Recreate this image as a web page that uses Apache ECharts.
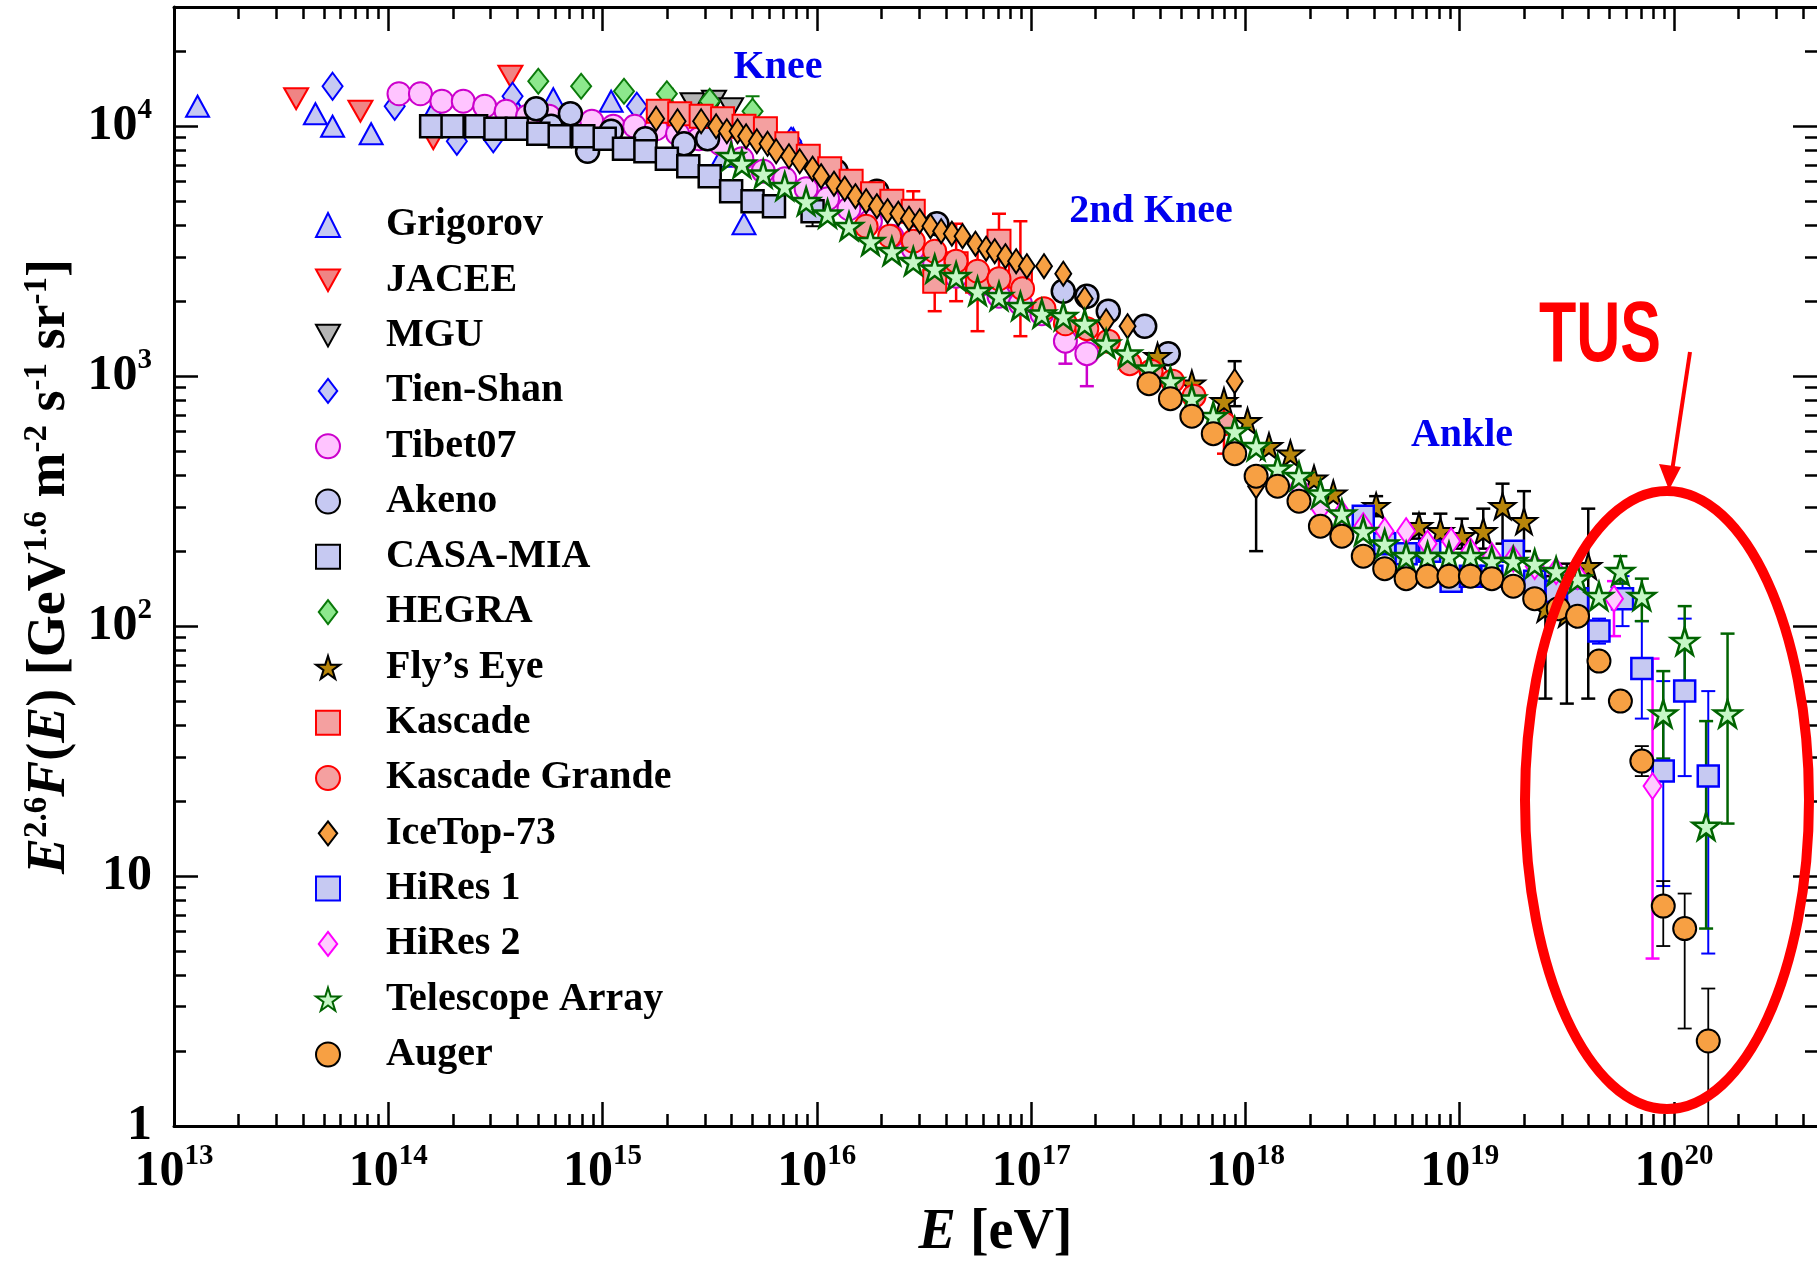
<!DOCTYPE html>
<html><head><meta charset="utf-8">
<script src="https://cdn.jsdelivr.net/npm/echarts@6/dist/echarts.min.js"></script>
<style>html,body{margin:0;padding:0;background:#fff}#c{width:1817px;height:1261px}</style>
</head><body><div id="c"></div>
<script>
// All values below as [log10(E/eV), log10(E^2.6 F(E))]
const GRIGOROV = [[13.11,4.08],[13.66,4.05],[13.74,4.00],[13.92,3.97],[14.21,4.06],[14.57,4.11],[14.77,4.11],[15.04,4.10],[15.56,3.88],[15.66,3.61],[15.89,3.95]];
const JACEE = [[13.57,4.11],[13.87,4.06],[14.21,3.95],[14.57,4.20]];
const MGU = [[15.42,4.09],[15.52,4.10],[15.60,4.07]];
const TIENSHAN = [[13.74,4.16],[14.03,4.08],[14.32,3.94],[14.49,3.95],[14.58,4.12],[15.16,4.08],[15.88,3.94]];
const TIBET07 = [[14.05,4.13],[14.15,4.13],[14.25,4.10],[14.35,4.10],[14.45,4.08],[14.55,4.06],[14.65,4.04],[14.75,4.04],[14.86,4.02],[14.95,4.02],[15.05,4.00],[15.15,4.00],[15.25,3.99],[15.35,3.97],[15.45,3.95],[15.55,3.93],[15.65,3.87],[15.75,3.82],[15.85,3.79],[15.95,3.75],[16.05,3.71],[16.15,3.67],[16.25,3.62],[16.35,3.56],[16.45,3.51],[16.55,3.45],[16.65,3.40],[16.75,3.36],[16.85,3.32],[16.95,3.29],[17.05,3.25],[17.16,3.14],[17.26,3.09]];
const TIBET07_ERR = [[17.16,3.05,3.21],[17.26,2.96,3.22]];
const AKENO = [[14.69,4.07],[14.76,4.00],[14.85,4.05],[14.93,3.90],[15.04,3.98],[15.20,3.95],[15.38,3.93],[15.49,3.95],[16.09,3.82],[16.28,3.74],[16.56,3.61],[17.15,3.34],[17.26,3.32],[17.36,3.26],[17.53,3.20],[17.64,3.09]];
const CASAMIA = [[14.20,4.00],[14.30,4.00],[14.41,4.00],[14.50,3.99],[14.60,3.99],[14.70,3.97],[14.80,3.96],[14.91,3.96],[15.01,3.95],[15.10,3.91],[15.20,3.90],[15.30,3.87],[15.40,3.84],[15.50,3.80],[15.60,3.74],[15.70,3.70],[15.80,3.68],[15.98,3.66]];
const CASAMIA_ERR = [[15.98,3.60,3.70]];
const HEGRA = [[14.70,4.18],[14.90,4.16],[15.10,4.14],[15.30,4.13],[15.50,4.10],[15.70,4.06]];
const HEGRA_ERR = [[15.30,4.10,4.15],[15.50,4.07,4.13],[15.70,4.03,4.12]];
const FLYSEYE = [[17.59,3.08],[17.75,2.97],[17.90,2.90],[18.01,2.82],[18.11,2.72],[18.21,2.69],[18.32,2.59],[18.41,2.53],[18.61,2.48],[18.81,2.40],[18.91,2.38],[19.01,2.36],[19.11,2.38],[19.20,2.48],[19.30,2.42],[19.40,2.07],[19.50,2.05],[19.60,2.24]];
const FLYSEYE_ERR = [[18.61,2.44,2.52],[18.81,2.35,2.45],[18.91,2.34,2.45],[19.01,2.31,2.43],[19.11,2.31,2.47],[19.20,2.33,2.57],[19.30,2.30,2.54],[19.40,1.71,2.20],[19.50,1.69,2.25],[19.60,1.71,2.47]];
const KASCADE = [[15.26,4.06],[15.36,4.05],[15.46,4.04],[15.56,4.03],[15.66,4.00],[15.76,3.99],[15.86,3.93],[15.96,3.88],[16.06,3.83],[16.16,3.78],[16.26,3.73],[16.35,3.70],[16.45,3.66],[16.55,3.38],[16.65,3.45],[16.75,3.38],[16.85,3.54],[16.95,3.40]];
const KASCADE_ERR = [[16.45,3.60,3.74],[16.55,3.26,3.50],[16.65,3.30,3.61],[16.75,3.18,3.52],[16.85,3.40,3.65],[16.95,3.16,3.62]];
const KGRANDE = [[16.23,3.60],[16.34,3.56],[16.45,3.54],[16.55,3.50],[16.65,3.46],[16.75,3.42],[16.85,3.39],[16.96,3.35],[17.06,3.27],[17.16,3.21],[17.26,3.19],[17.36,3.14],[17.46,3.05],[17.56,3.02],[17.66,2.98],[17.76,2.92],[17.90,2.81]];
const KGRANDE_ERR = [[17.90,2.69,2.90]];
const ICETOP = [[15.25,4.03],[15.35,4.02],[15.46,4.02],[15.53,4.00],[15.58,3.98],[15.63,3.98],[15.67,3.96],[15.72,3.94],[15.77,3.93],[15.81,3.90],[15.87,3.88],[15.92,3.86],[15.98,3.83],[16.02,3.80],[16.08,3.77],[16.13,3.75],[16.18,3.72],[16.23,3.70],[16.28,3.68],[16.33,3.66],[16.38,3.65],[16.43,3.63],[16.48,3.62],[16.53,3.60],[16.58,3.58],[16.63,3.57],[16.68,3.56],[16.74,3.53],[16.79,3.51],[16.83,3.50],[16.88,3.48],[16.93,3.46],[16.98,3.44],[17.06,3.44],[17.15,3.41],[17.25,3.31],[17.35,3.22],[17.45,3.20],[17.95,2.98],[18.05,2.56]];
const ICETOP_ERR = [[17.95,2.88,3.06],[18.05,2.30,2.60]];
const HIRES1 = [[18.55,2.44],[18.65,2.33],[18.75,2.29],[18.86,2.30],[18.96,2.18],[19.05,2.20],[19.15,2.20],[19.25,2.30],[19.35,2.18],[19.45,2.14],[19.55,2.11],[19.65,1.98],[19.76,2.11],[19.85,1.83],[19.95,1.42],[20.05,1.74],[20.16,1.40]];
const HIRES1_ERR = [[19.65,1.93,2.03],[19.76,2.00,2.20],[19.85,1.63,2.02],[19.95,0.96,1.78],[20.05,1.40,2.03],[20.16,0.69,1.74]];
const HIRES2 = [[18.25,2.56],[18.35,2.47],[18.45,2.45],[18.55,2.40],[18.65,2.38],[18.75,2.38],[18.85,2.33],[18.96,2.34],[19.05,2.30],[19.15,2.28],[19.25,2.27],[19.35,2.24],[19.45,2.22],[19.55,2.20],[19.72,2.11],[19.90,1.36]];
const HIRES2_ERR = [[19.72,1.96,2.18],[19.90,0.67,1.87]];
const TA = [[15.60,3.88],[15.65,3.85],[15.75,3.81],[15.85,3.76],[15.95,3.70],[16.05,3.65],[16.15,3.60],[16.25,3.54],[16.35,3.50],[16.45,3.46],[16.55,3.43],[16.65,3.40],[16.75,3.34],[16.85,3.32],[16.95,3.28],[17.05,3.25],[17.15,3.24],[17.25,3.21],[17.35,3.13],[17.45,3.09],[17.55,3.03],[17.65,2.98],[17.75,2.91],[17.85,2.84],[17.95,2.78],[18.05,2.72],[18.15,2.63],[18.25,2.60],[18.35,2.53],[18.45,2.45],[18.55,2.38],[18.65,2.33],[18.75,2.28],[18.85,2.28],[18.95,2.28],[19.05,2.28],[19.15,2.26],[19.25,2.26],[19.35,2.25],[19.45,2.22],[19.55,2.19],[19.65,2.12],[19.75,2.22],[19.85,2.12],[19.95,1.65],[20.05,1.94],[20.15,1.20],[20.25,1.65]];
const TA_ERR = [[19.75,2.17,2.28],[19.85,2.02,2.19],[19.95,1.47,1.82],[20.05,1.78,2.08],[20.15,0.79,1.62],[20.25,1.21,1.97]];
const AUGER = [[17.55,2.97],[17.65,2.91],[17.75,2.84],[17.85,2.77],[17.95,2.69],[18.05,2.60],[18.15,2.56],[18.25,2.50],[18.35,2.40],[18.45,2.36],[18.55,2.28],[18.65,2.23],[18.75,2.19],[18.85,2.20],[18.95,2.20],[19.05,2.20],[19.15,2.19],[19.25,2.16],[19.35,2.11],[19.46,2.07],[19.55,2.04],[19.65,1.86],[19.75,1.70],[19.85,1.46],[19.95,0.88],[20.05,0.79],[20.16,0.34]];
const AUGER_ERR = [[19.85,1.40,1.52],[19.95,0.72,0.98],[20.05,0.39,0.93],[20.16,-0.02,0.55]];

// axes
const X_MIN = 1e13, X_MAX = 4.65e20, Y_MIN = 1, Y_MAX = 3e4;
const X_TICK_EXP = [13,14,15,16,17,18,19,20];
const Y_TICK_EXP = [0,1,2,3,4];

const P = v => Math.pow(10, v);
const X_MAJOR = X_TICK_EXP.map(P);
const Y_MAJOR = Y_TICK_EXP.map(P);
const X_MINOR = [], Y_MINOR = [];
for (let e = 13; e <= 20; e++) for (let k = 2; k <= 9; k++) { const v = k * P(e); if (v < X_MAX) X_MINOR.push(v); }
for (let e = 0; e <= 4; e++) for (let k = 2; k <= 9; k++) { const v = k * P(e); if (v < Y_MAX) Y_MINOR.push(v); }

const LAV = '#c6c9f2', BLUE = '#0000ff';
const DOWN = 'path://M0,0 L100,0 L50,90 Z';
const STAR = 'path://M50,0 L61,35 L98,35 L68,57 L79,92 L50,71 L21,92 L32,57 L2,35 L39,35 Z';
const DIAM = 'path://M50,0 L100,65 L50,130 L0,65 Z';

const SPEC = [
  {name:'Grigorov', data:GRIGOROV, symbol:'triangle', size:[23,21], fill:LAV, stroke:BLUE, bw:2},
  {name:'JACEE', data:JACEE, symbol:DOWN, size:[24,21], fill:'#f08484', stroke:'#ff0000', bw:2},
  {name:'MGU', data:MGU, symbol:DOWN, size:[24,21], fill:'#b4b4b4', stroke:'#000', bw:2},
  {name:'Tien-Shan', data:TIENSHAN, symbol:'diamond', size:[20,27], fill:LAV, stroke:BLUE, bw:2, icon:DIAM},
  {name:'Tibet07', data:TIBET07, symbol:'circle', size:23, fill:'#ffc4ff', stroke:'#cc00cc', bw:2, err:TIBET07_ERR, ec:'#cc00cc', ew:2.5},
  {name:'Akeno', data:AKENO, symbol:'circle', size:23, fill:LAV, stroke:'#000', bw:2.5},
  {name:'CASA-MIA', data:CASAMIA, symbol:'rect', size:22, fill:LAV, stroke:'#000', bw:2.5, err:CASAMIA_ERR, ec:'#000', ew:2},
  {name:'HEGRA', data:HEGRA, symbol:'diamond', size:[20,25], fill:'#8de88d', stroke:'#0a7a0a', bw:2, err:HEGRA_ERR, ec:'#0a7a0a', ew:2, icon:DIAM},
  {name:'Fly\u2019s Eye', data:FLYSEYE, symbol:STAR, size:26, fill:'#b8860b', stroke:'#000', bw:2, err:FLYSEYE_ERR, ec:'#000', ew:2.5},
  {name:'Kascade', data:KASCADE, symbol:'rect', size:23, fill:'#f4a0a0', stroke:'#ff0000', bw:2, err:KASCADE_ERR, ec:'#ff0000', ew:2.5},
  {name:'Kascade Grande', data:KGRANDE, symbol:'circle', size:23, fill:'#f4a0a0', stroke:'#ff0000', bw:2, err:KGRANDE_ERR, ec:'#ff0000', ew:2.5},
  {name:'IceTop-73', data:ICETOP, symbol:'diamond', size:[16,24], fill:'#f7a043', stroke:'#000', bw:2, err:ICETOP_ERR, ec:'#000', ew:2.5, icon:DIAM},
  {name:'HiRes 1', data:HIRES1, symbol:'rect', size:21, fill:LAV, stroke:BLUE, bw:2.5, err:HIRES1_ERR, ec:BLUE, ew:2},
  {name:'HiRes 2', data:HIRES2, symbol:'diamond', size:[18,26], fill:'#ffccff', stroke:'#ff00ff', bw:2, err:HIRES2_ERR, ec:'#ff00ff', ew:2.5, icon:DIAM},
  {name:'Telescope Array', data:TA, symbol:STAR, size:27, fill:'#c6f7c6', stroke:'#006400', bw:2.5, err:TA_ERR, ec:'#006400', ew:2.5},
  {name:'Auger', data:AUGER, symbol:'circle', size:23, fill:'#f7a043', stroke:'#000', bw:2, err:AUGER_ERR, ec:'#000', ew:1.8}
];

function errSeries(s) {
  const col = s.ec, lw = s.ew;
  return {
    type:'custom', name:'err-' + s.name, silent:true, legendHoverLink:false,
    data: s.err.map(d => [P(d[0]), P(d[1]), P(d[2])]),
    encode:{x:0, y:[1,2]},
    renderItem: function (params, api) {
      const x = api.value(0), lo = api.value(1), hi = api.value(2);
      const a = api.coord([x, hi]), b = api.coord([x, Math.max(lo, Y_MIN)]);
      const w = 7;
      const st = {stroke: col, lineWidth: lw};
      const ch = [
        {type:'line', shape:{x1:a[0], y1:a[1], x2:b[0], y2:b[1]}, style:st},
        {type:'line', shape:{x1:a[0]-w, y1:a[1], x2:a[0]+w, y2:a[1]}, style:st}
      ];
      if (lo > Y_MIN) ch.push({type:'line', shape:{x1:b[0]-w, y1:b[1], x2:b[0]+w, y2:b[1]}, style:st});
      return {type:'group', children: ch};
    }
  };
}

const series = [];
SPEC.forEach(s => {
  if (s.err) series.push(errSeries(s));
  series.push({
    type:'scatter', name:s.name, symbol:s.symbol, symbolSize:s.size,
    data: s.data.map(d => [P(d[0]), P(d[1])]),
    itemStyle:{color:s.fill, borderColor:s.stroke, borderWidth:s.bw, opacity:1},
    emphasis:{disabled:true}
  });
});

const SERIF = 'Liberation Serif';
const labRich = {
  b:{fontFamily:SERIF, fontWeight:'bold', fontSize:50, lineHeight:60, color:'#000'},
  s:{fontFamily:SERIF, fontWeight:'bold', fontSize:29, lineHeight:30, verticalAlign:'top', color:'#000'}
};
const tickLine = {color:'#000', width:2.5};
function xAxis(pos, major, showLine, showLabel) {
  return {
    type:'log', logBase:10, min:X_MIN, max:X_MAX, position:pos,
    splitLine:{show:false}, minorTick:{show:false}, minorSplitLine:{show:false},
    axisLine:{show:showLine, onZero:false, lineStyle:{color:'#000', width:3}},
    axisTick:{show:true, inside:true, length: major ? 24 : 12, lineStyle:tickLine, customValues: major ? X_MAJOR : X_MINOR},
    axisLabel: showLabel ? {show:true, customValues:X_MAJOR, margin:16, rich:labRich,
      formatter: v => '{b|10}{s|' + Math.round(Math.log10(v)) + '}'} : {show:false}
  };
}
function yAxis(pos, major, showLine, showLabel) {
  return {
    type:'log', logBase:10, min:Y_MIN, max:Y_MAX, position:pos,
    splitLine:{show:false}, minorTick:{show:false}, minorSplitLine:{show:false},
    axisLine:{show:showLine, onZero:false, lineStyle:{color:'#000', width:3}},
    axisTick:{show:true, inside:true, length: major ? 24 : 12, lineStyle:tickLine, customValues: major ? Y_MAJOR : Y_MINOR},
    axisLabel: showLabel ? {show:true, customValues:Y_MAJOR, margin:22, rich:labRich,
      formatter: v => { const e = Math.round(Math.log10(v)); return e === 0 ? '{b|1}' : (e === 1 ? '{b|10}' : '{b|10}{s|' + e + '}'); }} : {show:false}
  };
}

const xa = [xAxis('bottom', true, true, true), xAxis('bottom', false, false, false), xAxis('top', true, true, false), xAxis('top', false, false, false)];
xa[0].name = '{i|E}{b| [eV]}';
xa[0].nameLocation = 'middle';
xa[0].nameGap = 78;
xa[0].nameTextStyle = {rich:{
  i:{fontFamily:SERIF, fontWeight:'bold', fontStyle:'italic', fontSize:56, lineHeight:60, color:'#000'},
  b:{fontFamily:SERIF, fontWeight:'bold', fontSize:56, lineHeight:60, color:'#000'}}};
const ya = [yAxis('left', true, true, true), yAxis('left', false, false, false), yAxis('right', true, false, false), yAxis('right', false, false, false)];
ya[0].name = '{i|E}{s|2.6}{i|F}{b|(}{i|E}{b|) [GeV}{s|1.6}{b| m}{s|-2}{b| s}{s|-1}{b| sr}{s|-1}{b|]}';
ya[0].nameLocation = 'middle';
ya[0].nameRotate = 90;
ya[0].nameGap = 92;
ya[0].nameTextStyle = {rich:{
  i:{fontFamily:SERIF, fontWeight:'bold', fontStyle:'italic', fontSize:54, lineHeight:58, color:'#000'},
  b:{fontFamily:SERIF, fontWeight:'bold', fontSize:54, lineHeight:58, color:'#000'},
  s:{fontFamily:SERIF, fontWeight:'bold', fontSize:33, lineHeight:32, verticalAlign:'top', color:'#000'}}};

const annoFont = {fontFamily:SERIF, fontWeight:'bold', fontSize:40, fill:'#0000ee', align:'center', verticalAlign:'middle'};
const chart = echarts.init(document.getElementById('c'), null, {renderer:'canvas'});
chart.setOption({
  animation:false,
  backgroundColor:'#ffffff',
  grid:{left:174, top:7, right:0, bottom:135, containLabel:false, outerBoundsMode:'none'},
  xAxis: xa,
  yAxis: ya,
  legend:{
    orient:'vertical', left:315, top:205, padding:0, itemWidth:24, itemHeight:24, itemGap:15.3,
    selectedMode:false, itemStyle:{borderWidth:2},
    data: SPEC.map(s => s.icon ? {name:s.name, icon:s.icon} : {name:s.name}),
    formatter:'{n|{name}}',
    textStyle:{rich:{n:{fontFamily:SERIF, fontWeight:'bold', fontSize:40, lineHeight:40, color:'#000', padding:[0,0,0,41]}}}
  },
  series: series,
  graphic:[
    {type:'text', x:778, y:68, style:Object.assign({text:'Knee'}, annoFont), z:50},
    {type:'text', x:1151, y:212, style:Object.assign({text:'2nd Knee'}, annoFont), z:50},
    {type:'text', x:1462, y:436, style:Object.assign({text:'Ankle'}, annoFont), z:50},
    {type:'text', x:1600, y:337, scaleX:0.71, style:{text:'TUS', fontFamily:'Liberation Sans', fontWeight:'bold', fontSize:86, fill:'#ff0000', align:'center', verticalAlign:'middle'}, z:50},
    {type:'line', shape:{x1:1690, y1:352, x2:1671, y2:478}, style:{stroke:'#ff0000', lineWidth:4}, z:50},
    {type:'polygon', shape:{points:[[1669,490],[1659,464],[1681,467]]}, style:{fill:'#ff0000'}, z:50},
    {type:'ellipse', shape:{cx:1667, cy:800, rx:142, ry:309}, style:{fill:null, stroke:'#ff0000', lineWidth:10}, z:50}
  ]
});
</script></body></html>
